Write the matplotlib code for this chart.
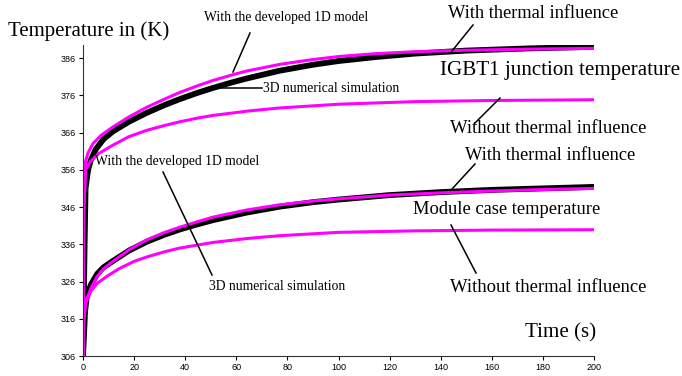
#!/usr/bin/env python3
"""IGBT1 junction / module case temperature: 3D simulation vs developed 1D model."""

import matplotlib
matplotlib.use("Agg")
import matplotlib.pyplot as plt
from matplotlib.lines import Line2D

SERIF = "Liberation Serif"
SANS = "Liberation Sans"

# --- junction temperature (K) ---
t_j3d = [0, 0.6, 1, 2, 3, 5, 8, 11.7, 18, 25, 32, 38, 45, 51, 58, 64, 77, 90,
         100, 115, 130, 150, 175, 200]
T_j3d = [306, 335, 351, 356, 358.5, 361.5, 364.2, 366.3, 368.9, 371.3, 373.4,
         375.0, 376.7, 378.0, 379.4, 380.5, 382.6, 384.2, 385.2, 386.3, 387.2,
         388.0, 388.6, 389.0]

t_j1d = [0, 0.3, 1, 2, 3.9, 7, 11.7, 18, 25, 32, 38, 45, 51, 58, 64, 77, 90,
         100, 115, 130, 150, 175, 200]
T_j1d = [306, 345, 358.3, 360.6, 363.0, 365.2, 367.5, 370.2, 372.8, 375.0,
         376.8, 378.6, 380.0, 381.4, 382.5, 384.3, 385.6, 386.4, 387.2, 387.7,
         388.1, 388.4, 388.6]

t_jno = [0, 0.3, 1, 3, 6, 11.7, 18, 25, 32, 38, 45, 51, 65, 77, 100, 130, 160, 200]
T_jno = [306, 345, 356, 358.3, 360.3, 362.6, 364.9, 366.6, 367.9, 368.9, 369.9,
         370.6, 371.8, 372.6, 373.6, 374.3, 374.6, 374.8]

# --- module case temperature (K) ---
t_c3d = [0, 0.8, 1.5, 3, 5.5, 8, 11.7, 18, 25, 32, 38, 45, 51, 64, 77, 90, 100,
         120, 140, 160, 180, 200]
T_c3d = [306, 318, 322, 325, 328, 329.8, 331.5, 334.3, 336.7, 338.6, 340.0,
         341.4, 342.5, 344.5, 346.1, 347.3, 348, 349.2, 350.0, 350.6, 351.0,
         351.4]

t_c1d = [0, 0.3, 1, 3, 5.5, 8, 11.7, 18, 25, 32, 38, 45, 51, 64, 77, 90, 100,
         120, 140, 160, 180, 200]
T_c1d = [306, 316, 320.5, 324, 327.3, 329.4, 331.4, 334.5, 337.2, 339.2, 340.6,
         342.1, 343.3, 345.2, 346.6, 347.6, 348.2, 349.2, 349.8, 350.3, 350.7,
         351.0]

t_cno = [0, 0.3, 1, 3, 5.5, 9.4, 14, 20, 25, 32, 38, 51, 65, 77, 100, 130, 160, 200]
T_cno = [306, 315, 320, 323.3, 325.5, 327.4, 329.4, 331.4, 332.6, 334.0, 335.0,
         336.5, 337.6, 338.3, 339.2, 339.6, 339.8, 339.9]

x_ticks = list(range(0, 201, 20))
y_ticks = list(range(306, 387, 10))

W, H = 682, 376
fig = plt.figure(figsize=(W / 100, H / 100), dpi=100)
ax = fig.add_axes([83 / W, 1 - 356 / H, (594 - 83) / W, (356 - 45) / H])

BLACK_LW = 4.2
MAG_LW = 2.2
MAG = "#ff00ff"

ax.plot(t_j3d, T_j3d, color="black", lw=BLACK_LW, solid_capstyle="butt")
ax.plot(t_c3d, T_c3d, color="black", lw=BLACK_LW, solid_capstyle="butt")
ax.plot(t_j1d, T_j1d, color=MAG, lw=MAG_LW)
ax.plot(t_jno, T_jno, color=MAG, lw=MAG_LW)
ax.plot(t_c1d, T_c1d, color=MAG, lw=MAG_LW)
ax.plot(t_cno, T_cno, color=MAG, lw=MAG_LW)

ax.set_xlim(0, 200)
ax.set_ylim(306, 389.5)
ax.set_xticks(x_ticks)
ax.set_yticks(y_ticks)
ax.spines["top"].set_visible(False)
ax.spines["right"].set_visible(False)
for s in ("left", "bottom"):
    ax.spines[s].set_linewidth(0.8)
    ax.spines[s].set_color("#333333")
ax.tick_params(direction="out", length=3, width=0.8, pad=2, labelsize=6.5,
               colors="black")
for lab in ax.get_xticklabels() + ax.get_yticklabels():
    lab.set_fontfamily(SANS)


def ptext(x, y, s, size, ha="center"):
    fig.text(x / W, 1 - y / H, s, fontsize=size, family=SERIF, ha=ha, va="center")


def pline(x0, y0, x1, y1):
    fig.add_artist(Line2D([x0 / W, x1 / W], [1 - y0 / H, 1 - y1 / H],
                          transform=fig.transFigure, color="black", lw=1.1))


SMALL = 9.8

ptext(8, 31, "Temperature in (K)", 15, ha="left")
ptext(286, 17, "With the developed 1D model", SMALL)
pline(250, 33, 233, 72)
ptext(533, 14, "With thermal influence", 13.2)
pline(473, 25, 452, 51)
pline(213, 88, 262, 88)
ptext(263, 88, "3D numerical simulation", SMALL, ha="left")
ptext(560, 71, "IGBT1 junction temperature", 15.1)
ptext(548, 128, "Without thermal influence", 13.4)
pline(500, 98, 475, 123)
ptext(550, 156, "With thermal influence", 13.2)
pline(475, 164, 452, 189)
ptext(507, 209, "Module case temperature", 13.3)
ptext(548, 287, "Without thermal influence", 13.4)
pline(451, 225, 476, 273)
ptext(177, 162, "With the developed 1D model", SMALL)
pline(163, 172, 212, 275)
ptext(277, 286, "3D numerical simulation", SMALL)
ptext(561, 333, "Time (s)", 15.1)

fig.savefig("out.png", dpi=100)
